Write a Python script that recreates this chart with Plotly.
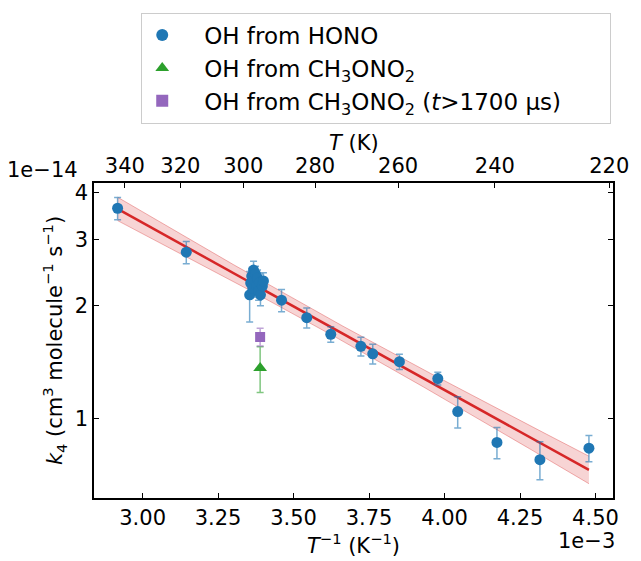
import numpy as np
import plotly.graph_objects as go

# OH + CH3ONO2 rate coefficients, k4 (cm3 molecule-1 s-1)
# OH generated from HONO photolysis
T_hono = [342.8, 318.0,
          298.1, 297.8, 297.5, 297.2, 296.96, 296.7, 296.4, 296.1,
          295.8, 295.5, 295.25, 294.96, 294.4, 294.1,
          289.0, 282.2, 276.0, 268.6, 265.8, 259.7, 251.4, 247.3,
          239.6, 231.7, 223.3]
k_hono = [3.64e-14, 2.78e-14,
          2.14e-14, 2.30e-14, 2.40e-14, 2.23e-14, 2.49e-14, 2.34e-14, 2.43e-14, 2.26e-14,
          2.37e-14, 2.19e-14, 2.31e-14, 2.14e-14, 2.26e-14, 2.33e-14,
          2.07e-14, 1.86e-14, 1.68e-14, 1.56e-14, 1.49e-14, 1.42e-14, 1.28e-14, 1.045e-14,
          0.865e-14, 0.778e-14, 0.835e-14]
kerr_hono = [0.25e-14, 0.19e-14,
             0.33e-14, 0.12e-14, 0.12e-14, 0.12e-14, 0.14e-14, 0.12e-14, 0.12e-14, 0.12e-14,
             0.12e-14, 0.12e-14, 0.12e-14, 0.14e-14, 0.12e-14, 0.12e-14,
             0.14e-14, 0.115e-14, 0.08e-14, 0.09e-14, 0.09e-14, 0.067e-14, 0.05e-14, 0.10e-14,
             0.083e-14, 0.09e-14, 0.067e-14]

# OH generated from CH3ONO2 photolysis
T_mn = [295.05]
k_mn = [1.365e-14]
kerr_mn = [0.19e-14]

# OH from CH3ONO2, late-time fit window (t > 1700 us)
T_late = [295.05]
k_late = [1.652e-14]
kerr_late = [0.09e-14]

# Arrhenius fit k = A exp(-E_R / T) with confidence band (log10 units)
A_fit = 7.23e-13
E_R_fit = 1026.0
band_sa = 0.020
band_sb = 35.0      # per K^-1 (i.e. 0.035 per 1e-3 K^-1)
band_x0 = 3.6e-3

# Axis ticks
x_ticks = [3.00e-3, 3.25e-3, 3.50e-3, 3.75e-3, 4.00e-3, 4.25e-3, 4.50e-3]
x_ticktext = ["3.00", "3.25", "3.50", "3.75", "4.00", "4.25", "4.50"]
T_ticks = [340, 320, 300, 280, 260, 240, 220]
y_ticks = [1e-14, 2e-14, 3e-14, 4e-14]
y_ticktext = ["1", "2", "3", "4"]

BLUE = "#1f77b4"
GREEN = "#2ca02c"
PURPLE = "#9467bd"
RED = "#d62728"
FONT = "DejaVu Sans"
FS = 21
FS_LEG = 23
PAD = "\u00a0" * 3   # gap between legend handle and label

x_range = [2.839e-3, 4.558e-3]
y_range = [np.log10(0.615e-14), np.log10(4.25e-14)]

inv = lambda T: [1.0 / t for t in T]

# fit curve over the span of the HONO data
xf = np.linspace(min(inv(T_hono)), max(inv(T_hono)), 200)
log_k_fit = np.log10(A_fit) - E_R_fit * xf / np.log(10)
hw = np.sqrt(band_sa ** 2 + (band_sb * (xf - band_x0)) ** 2)
k_fit = 10 ** log_k_fit
k_lo = 10 ** (log_k_fit - hw)
k_hi = 10 ** (log_k_fit + hw)

fig = go.Figure()

fig.add_trace(go.Scatter(x=xf, y=k_lo, mode="lines",
                         line=dict(color="rgba(214,39,40,0.35)", width=1),
                         showlegend=False, hoverinfo="skip"))
fig.add_trace(go.Scatter(x=xf, y=k_hi, mode="lines", fill="tonexty",
                         fillcolor="rgba(214,39,40,0.2)",
                         line=dict(color="rgba(214,39,40,0.35)", width=1),
                         showlegend=False, hoverinfo="skip"))
fig.add_trace(go.Scatter(x=xf, y=k_fit, mode="lines",
                         line=dict(color=RED, width=2.5),
                         showlegend=False, hoverinfo="skip"))

fig.add_trace(go.Scatter(
    x=inv(T_hono), y=k_hono, mode="markers", name=PAD + "OH from HONO", legendgroup="a",
    marker=dict(symbol="circle", size=11, color=BLUE),
    error_y=dict(type="data", array=kerr_hono, color="rgba(31,119,180,0.6)",
                 thickness=1.5, width=3.5)))
fig.add_trace(go.Scatter(
    x=inv(T_mn), y=k_mn, mode="markers", legendgroup="b",
    name=PAD + "OH from CH<sub>3</sub>ONO<sub>2</sub>",
    marker=dict(symbol="triangle-up", size=12, color=GREEN),
    error_y=dict(type="data", array=kerr_mn, color="rgba(44,160,44,0.6)",
                 thickness=1.5, width=3.5)))
fig.add_trace(go.Scatter(
    x=inv(T_late), y=k_late, mode="markers", legendgroup="c",
    name=PAD + "OH from CH<sub>3</sub>ONO<sub>2</sub> (<i>t</i>>1700 µs)" + "\u00a0" * 6,
    marker=dict(symbol="square", size=10, color=PURPLE),
    error_y=dict(type="data", array=kerr_late, color="rgba(148,103,189,0.6)",
                 thickness=1.5, width=3.5)))

# invisible trace that carries the top temperature axis
fig.add_trace(go.Scatter(x=x_range, y=[1e-14, 1e-14], xaxis="x2", mode="markers",
                         marker=dict(opacity=0), showlegend=False, hoverinfo="skip"))

axis_common = dict(showline=True, linecolor="black", linewidth=1.6,
                   ticks="inside", ticklen=5, tickwidth=1.2, tickcolor="black",
                   showgrid=False, zeroline=False,
                   tickfont=dict(family=FONT, size=FS, color="black"))

fig.update_layout(
    width=641, height=561,
    margin=dict(l=94, r=20, t=183, b=57),
    paper_bgcolor="white", plot_bgcolor="white",
    font=dict(family=FONT, size=FS, color="black"),
    xaxis=dict(range=x_range, tickvals=x_ticks, ticktext=x_ticktext,
               title=dict(text="<i>T</i><sup>−1</sup> (K<sup>−1</sup>)",
                          font=dict(family=FONT, size=FS), standoff=4),
               **axis_common),
    xaxis2=dict(range=x_range, overlaying="x", side="top", anchor="y",
                tickvals=[1.0 / t for t in T_ticks], ticktext=[str(t) for t in T_ticks],
                **axis_common),
    yaxis=dict(type="log", range=y_range, tickvals=y_ticks, ticktext=y_ticktext,
               mirror="ticks",
               title=dict(text="<i>k</i><sub>4</sub> (cm<sup>3</sup> molecule<sup>−1</sup> s<sup>−1</sup>)",
                          font=dict(family=FONT, size=FS), standoff=6),
               **axis_common),
    legend=dict(x=0.091, y=1.541, xanchor="left", yanchor="top",
                bgcolor="white", bordercolor="#cccccc", borderwidth=1,
                font=dict(family=FONT, size=FS_LEG), itemsizing="constant",
                itemwidth=30, traceorder="normal", tracegroupgap=2),
    showlegend=True,
)

# top axis title
fig.add_annotation(text="<i>T</i> (K)", xref="paper", yref="paper", x=0.5, y=1.128,
                   xanchor="center", yanchor="middle", showarrow=False,
                   font=dict(family=FONT, size=FS))
# axis offset labels
fig.add_annotation(text="1e−14", xref="paper", yref="paper", x=-0.0987, y=1.04,
                   xanchor="center", yanchor="middle", showarrow=False,
                   font=dict(family=FONT, size=FS))
fig.add_annotation(text="1e−3", xref="paper", yref="paper", x=1.008, y=-0.137,
                   xanchor="right", yanchor="middle", showarrow=False,
                   font=dict(family=FONT, size=FS))

fig.write_html("out.html")
